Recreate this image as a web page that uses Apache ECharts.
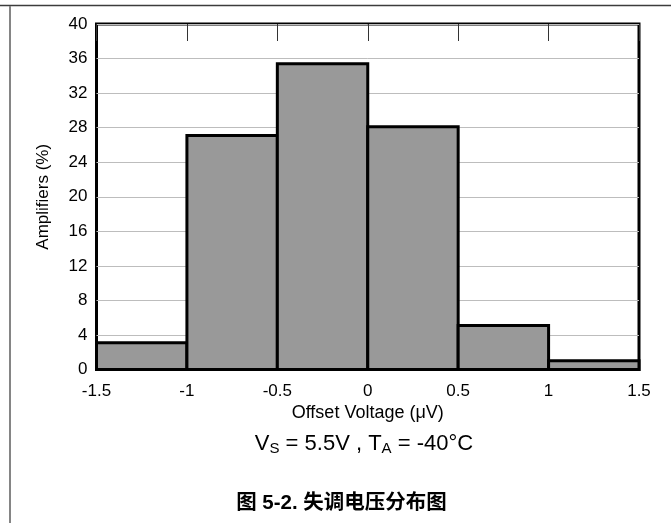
<!DOCTYPE html>
<html>
<head>
<meta charset="utf-8">
<script src="https://cdn.jsdelivr.net/npm/echarts@6/dist/echarts.min.js"></script>
<style>
  html, body { margin: 0; padding: 0; background: #fff; }
  #chart { width: 671px; height: 523px; }
</style>
</head>
<body>
<div id="chart"></div>
<script>
// Histogram bins (offset voltage, µV) and share of amplifiers (%)
const binStarts = [-1.5, -1, -0.5, 0, 0.5, 1];
const binEnds = [-1, -0.5, 0, 0.5, 1, 1.5];
const percents = [3.1, 27.1, 35.4, 28.1, 5.1, 1.0];

// Axis ticks
const xTicks = ['-1.5', '-1', '-0.5', '0', '0.5', '1', '1.5'];
const yTicks = ['0', '4', '8', '12', '16', '20', '24', '28', '32', '36', '40'];

const xName = 'Offset Voltage (\u03bcV)';
const yName = 'Amplifiers (%)';
const captionText = '\u56fe 5-2. \u5931\u8c03\u7535\u538b\u5206\u5e03\u56fe';

const FONT = '"Liberation Sans", Arial, sans-serif';

const histData = binStarts.map((s, i) => [s, binEnds[i], percents[i]]);

const chart = echarts.init(document.getElementById('chart'), null, { renderer: 'canvas' });

chart.setOption({
  animation: false,
  backgroundColor: '#fff',
  grid: {
    left: 96.5, right: 32, top: 24, bottom: 153.5,
    show: true, borderColor: '#000', borderWidth: 3, backgroundColor: 'transparent'
  },
  xAxis: [
    {
      type: 'value', min: -1.5, max: 1.5, interval: 0.5, position: 'bottom',
      axisLine: { show: false },
      axisTick: { show: false },
      splitLine: { show: false },
      axisLabel: {
        color: '#000', fontFamily: FONT, fontSize: 17, margin: 13,
        formatter: v => xTicks[Math.round((v + 1.5) / 0.5)]
      },
      name: xName, nameLocation: 'middle', nameGap: 33,
      nameTextStyle: { color: '#000', fontFamily: FONT, fontSize: 18 }
    },
    {
      type: 'value', min: -1.5, max: 1.5, interval: 0.5, position: 'top',
      axisLine: { show: false },
      axisTick: { show: true, inside: true, length: 17, lineStyle: { color: '#333', width: 1 } },
      axisLabel: { show: false },
      splitLine: { show: false }
    }
  ],
  yAxis: {
    type: 'value', min: 0, max: 40, interval: 4,
    axisLine: { show: false },
    axisTick: { show: false },
    splitLine: { show: true, lineStyle: { color: '#bdbdbd', width: 1 } },
    axisLabel: {
      color: '#000', fontFamily: FONT, fontSize: 17, margin: 9,
      formatter: v => yTicks[Math.round(v / 4)]
    },
    name: yName, nameLocation: 'middle', nameGap: 45, nameRotate: 90,
    nameTextStyle: { color: '#000', fontFamily: FONT, fontSize: 17 }
  },
  series: [{
    type: 'custom',
    xAxisIndex: 0,
    data: histData,
    encode: { x: [0, 1], y: 2 },
    renderItem: function (params, api) {
      const topLeft = api.coord([api.value(0), api.value(2)]);
      const bottomRight = api.coord([api.value(1), 0]);
      return {
        type: 'rect',
        shape: {
          x: topLeft[0], y: topLeft[1],
          width: bottomRight[0] - topLeft[0],
          height: bottomRight[1] - topLeft[1]
        },
        style: { fill: '#999999', stroke: '#000', lineWidth: 3 }
      };
    }
  }],
  graphic: [
    // page rule lines
    { type: 'line', shape: { x1: 0, y1: 5.5, x2: 671, y2: 5.5 }, style: { stroke: '#3c3c3c', lineWidth: 1.5 } },
    { type: 'line', shape: { x1: 10, y1: 6, x2: 10, y2: 523 }, style: { stroke: '#858585', lineWidth: 2 } },
    // test conditions
    {
      type: 'text', x: 364, y: 444,
      style: {
        text: '{m|V}{s|S}{m| = 5.5V , T}{s|A}{m| = -40\u00b0C}',
        align: 'center', verticalAlign: 'middle',
        rich: {
          m: { fontFamily: FONT, fontSize: 22, lineHeight: 24, fill: '#000' },
          s: { fontFamily: FONT, fontSize: 15, lineHeight: 10, verticalAlign: 'bottom', fill: '#000' }
        }
      }
    },
    // figure caption
    {
      type: 'text', x: 341.5, y: 503,
      style: {
        text: captionText,
        align: 'center', verticalAlign: 'middle',
        font: 'bold 20.5px "Liberation Sans", Arial, "Noto Sans CJK SC", sans-serif',
        fill: '#000'
      }
    }
  ]
});
</script>
</body>
</html>
